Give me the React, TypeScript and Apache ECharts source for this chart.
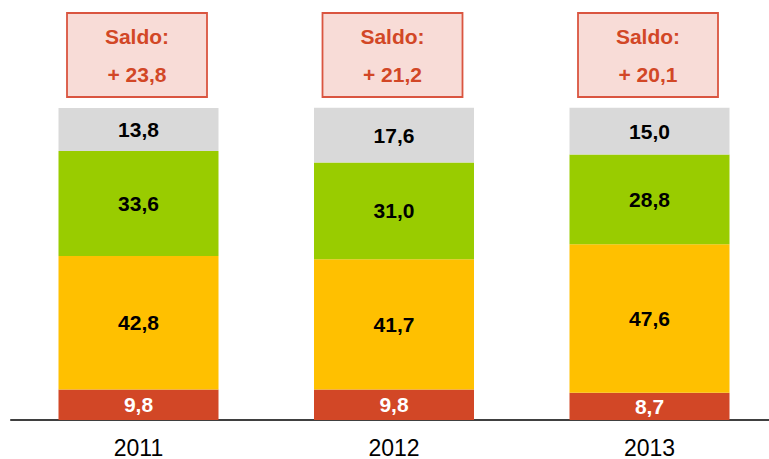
import React, { useEffect, useRef } from "react";
import * as echarts from "echarts";

const years = ["2011", "2012", "2013"];
const redValues = [9.8, 9.8, 8.7];
const orangeValues = [42.8, 41.7, 47.6];
const greenValues = [33.6, 31.0, 28.8];
const grayValues = [13.8, 17.6, 15.0];
const saldoValues = [23.8, 21.2, 20.1];

const FONT = "'Liberation Sans', Arial, Helvetica, sans-serif";
const fmt = (v: number) => v.toFixed(1).replace(".", ",");

export default function App() {
  const ref = useRef<HTMLDivElement>(null);

  useEffect(() => {
    if (!ref.current) return;
    const chart = echarts.init(ref.current, null, { renderer: "svg" });

    const mkSeries = (name: string, data: number[], color: string, labelColor: string) => ({
      name,
      type: "bar",
      stack: "total",
      data,
      barWidth: 160,
      clip: false,
      itemStyle: { color },
      label: {
        show: true,
        position: "inside",
        formatter: (p: any) => fmt(p.value),
        color: labelColor,
        fontFamily: FONT,
        fontWeight: "bold",
        fontSize: 21,
      },
    });

    const BOX_CENTER_VALUE = (420 - 55) / 3.12;

    chart.setOption({
      animation: false,
      grid: { left: 10.75, width: 766.5, top: 108, height: 312 },
      xAxis: {
        type: "category",
        data: years,
        axisTick: { show: false },
        axisLine: { lineStyle: { color: "#000000", width: 1.5 } },
        axisLabel: {
          color: "#000000",
          fontFamily: FONT,
          fontSize: 23,
          margin: 16,
        },
      },
      yAxis: {
        type: "value",
        min: 0,
        max: 100,
        show: false,
        splitLine: { show: false },
      },
      series: [
        mkSeries("red", redValues, "#D24726", "#FFFFFF"),
        mkSeries("orange", orangeValues, "#FFC000", "#000000"),
        mkSeries("green", greenValues, "#99CC00", "#000000"),
        mkSeries("gray", grayValues, "#D9D9D9", "#000000"),
        {
          type: "custom",
          clip: false,
          data: saldoValues.map((v, i) => [i, v]),
          renderItem: (params: any, api: any) => {
            const c = api.coord([api.value(0), BOX_CENTER_VALUE]);
            const cx = c[0] - 1.5;
            const cy = c[1];
            const w = 140;
            const h = 84;
            return {
              type: "group",
              children: [
                {
                  type: "rect",
                  shape: { x: cx - w / 2, y: cy - h / 2, width: w, height: h },
                  style: { fill: "#F8DCD7", stroke: "#DA5540", lineWidth: 1.8 },
                },
                {
                  type: "text",
                  x: cx,
                  y: cy - 18.5,
                  style: {
                    text: "Saldo:",
                    fill: "#D24726",
                    font: `bold 21px ${FONT}`,
                    align: "center",
                    verticalAlign: "middle",
                  },
                },
                {
                  type: "text",
                  x: cx,
                  y: cy + 19.5,
                  style: {
                    text: "+ " + fmt(api.value(1)),
                    fill: "#D24726",
                    font: `bold 21px ${FONT}`,
                    align: "center",
                    verticalAlign: "middle",
                  },
                },
              ],
            };
          },
        },
      ],
    });

    return () => chart.dispose();
  }, []);

  return (
    <div
      style={{
        position: "fixed",
        left: 0,
        top: 0,
        width: 769,
        height: 459,
        overflow: "hidden",
        background: "#FFFFFF",
      }}
    >
      <div ref={ref} style={{ width: 780, height: 459 }} />
    </div>
  );
}
